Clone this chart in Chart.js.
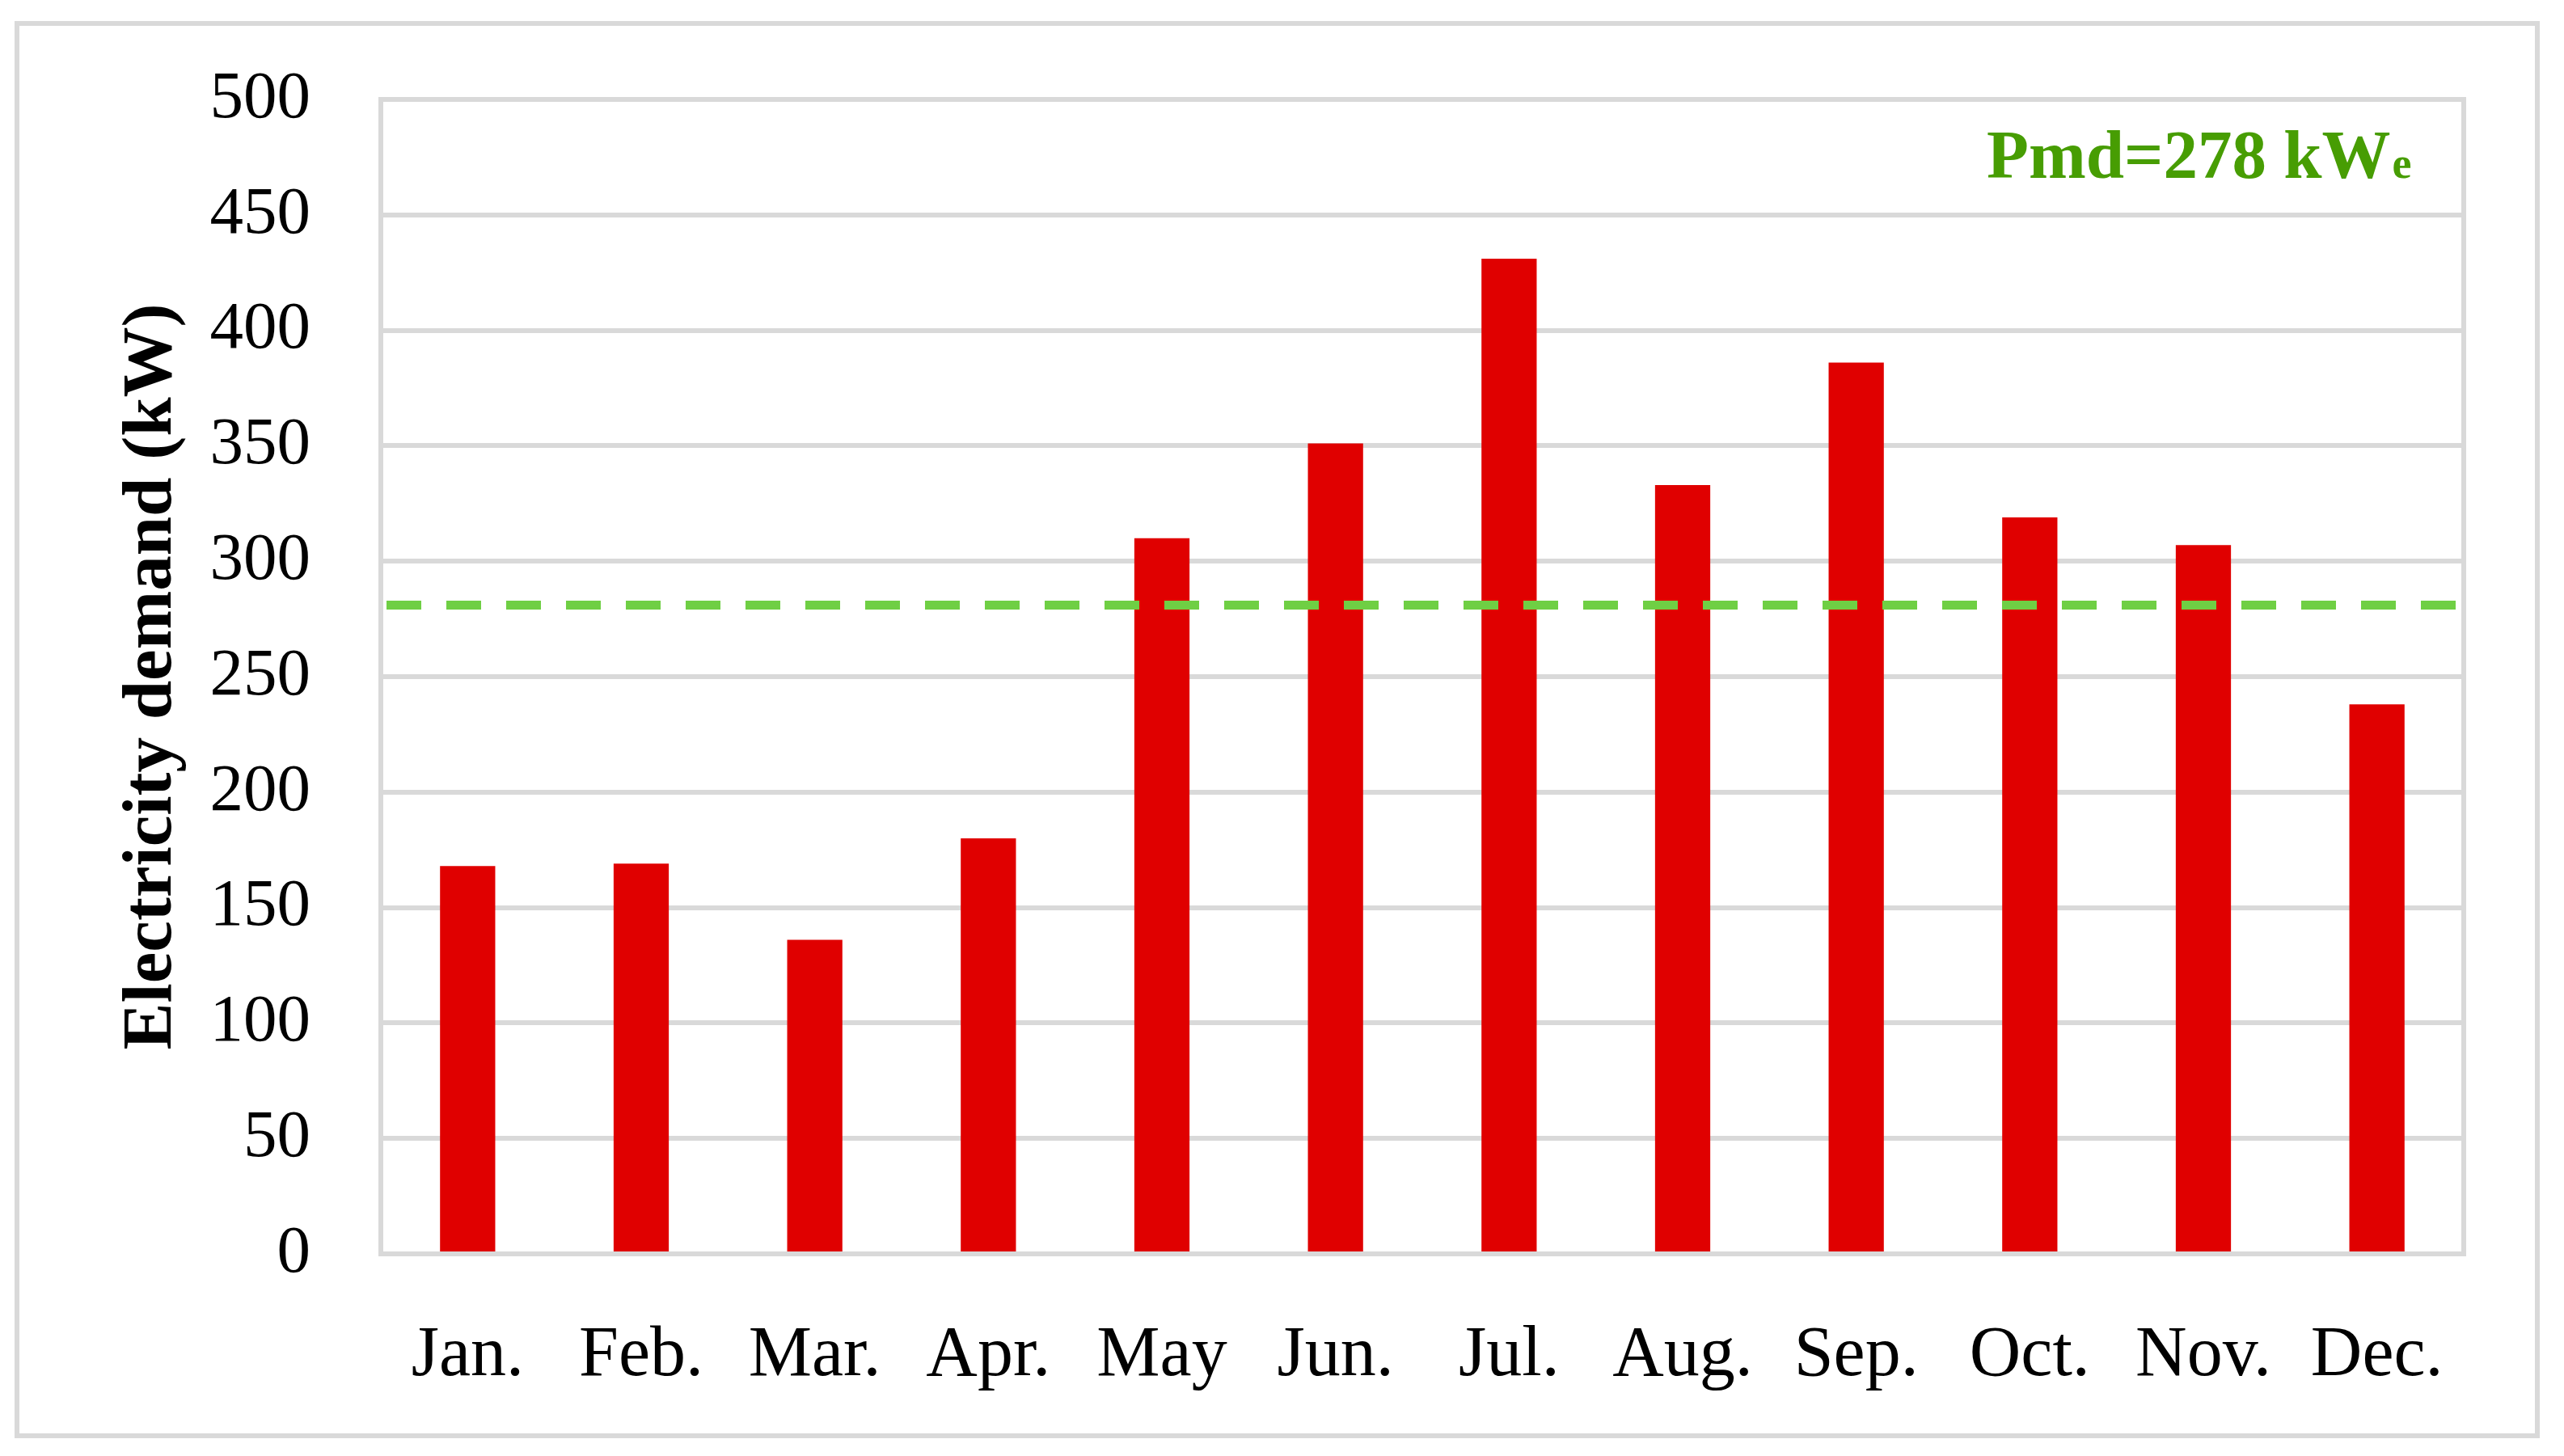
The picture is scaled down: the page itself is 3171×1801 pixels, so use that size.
<!DOCTYPE html>
<html>
<head>
<meta charset="utf-8">
<script src="https://cdn.jsdelivr.net/npm/chart.js@4/dist/chart.umd.min.js"></script>
<style>
  html, body { margin: 0; padding: 0; background: #ffffff; }
  #wrap { width: 3171px; height: 1801px; position: relative; }
</style>
</head>
<body>
<div id="wrap"><canvas id="c" width="3171" height="1801"></canvas></div>
<script>
// ---- data ----
const months = ["Jan.", "Feb.", "Mar.", "Apr.", "May", "Jun.", "Jul.", "Aug.", "Sep.", "Oct.", "Nov.", "Dec."];
const demandKW = [168, 169, 136, 180, 310, 351, 431, 333, 386, 319, 307, 238];
const pmdLineValue = 281;
const pmdLabelMain = "Pmd=278 kW";
const pmdLabelSub = "e";
const yAxisTitle = "Electricity demand (kW)";
const yMin = 0, yMax = 500, yStep = 50;

const GRID = "#d9d9d9";
const SERIF = "'Liberation Serif', 'Times New Roman', serif";

const decor = {
  id: "decor",
  beforeDraw(chart) {
    const ctx = chart.ctx;
    ctx.save();
    ctx.fillStyle = "#ffffff";
    ctx.fillRect(0, 0, chart.width, chart.height);
    ctx.strokeStyle = GRID;
    ctx.lineWidth = 6;
    ctx.strokeRect(21, 29, 3117, 1747);
    ctx.restore();
  },
  afterDraw(chart) {
    const ctx = chart.ctx;
    const a = chart.chartArea;
    const y = chart.scales.y;
    ctx.save();
    // right plot border
    ctx.strokeStyle = GRID;
    ctx.lineWidth = 6;
    ctx.beginPath();
    ctx.moveTo(a.right, a.top - 3);
    ctx.lineTo(a.right, a.bottom + 3);
    ctx.stroke();
    // Pmd dashed line
    const py = y.getPixelForValue(pmdLineValue);
    ctx.strokeStyle = "#6fcf44";
    ctx.lineWidth = 11;
    ctx.setLineDash([43, 31]);
    ctx.beginPath();
    ctx.moveTo(a.left + 7, py);
    ctx.lineTo(a.right + 8, py);
    ctx.stroke();
    ctx.setLineDash([]);
    // label
    ctx.fillStyle = "#479d03";
    ctx.textBaseline = "alphabetic";
    ctx.textAlign = "left";
    ctx.font = "bold 85px " + SERIF;
    const x0 = a.right - 590;
    const by = a.top + 97;
    ctx.fillText(pmdLabelMain, x0, by);
    const w = ctx.measureText(pmdLabelMain).width;
    ctx.font = "bold 54px " + SERIF;
    ctx.fillText(pmdLabelSub, x0 + w + 2, by);
    ctx.restore();
  }
};

new Chart(document.getElementById("c"), {
  type: "bar",
  data: {
    labels: months,
    datasets: [{
      label: "Electricity demand",
      data: demandKW,
      backgroundColor: "#e00000",
      borderWidth: 0,
      barPercentage: 0.318,
      categoryPercentage: 1.0
    }]
  },
  options: {
    responsive: false,
    animation: false,
    devicePixelRatio: 1,
    layout: { padding: { left: 0, top: 123, right: 124, bottom: 0 } },
    plugins: {
      legend: { display: false },
      tooltip: { enabled: false },
      title: { display: false }
    },
    scales: {
      x: {
        offset: true,
        grid: { display: false, drawTicks: false },
        border: { display: true, color: GRID, width: 6 },
        ticks: {
          color: "#000000",
          font: { family: SERIF, size: 88 },
          padding: 74,
          maxRotation: 0,
          autoSkip: false
        },
        afterFit(scale) {
          scale.height = 250;
          scale.paddingLeft = 0; scale.paddingRight = 0;
        }
      },
      y: {
        min: yMin,
        max: yMax,
        grid: { color: GRID, lineWidth: 6, drawTicks: false },
        border: { display: true, color: GRID, width: 6 },
        ticks: {
          stepSize: yStep,
          color: "#000000",
          font: { family: SERIF, size: 83 },
          padding: 87
        },
        title: {
          display: true,
          text: yAxisTitle,
          color: "#000000",
          font: { family: SERIF, size: 87, weight: "bold" },
          padding: { top: 136, bottom: 0 }
        },
        afterFit(scale) {
          scale.width = 471;
          scale.paddingTop = 0; scale.paddingBottom = 0;
        }
      }
    }
  },
  plugins: [decor]
});
</script>
</body>
</html>
